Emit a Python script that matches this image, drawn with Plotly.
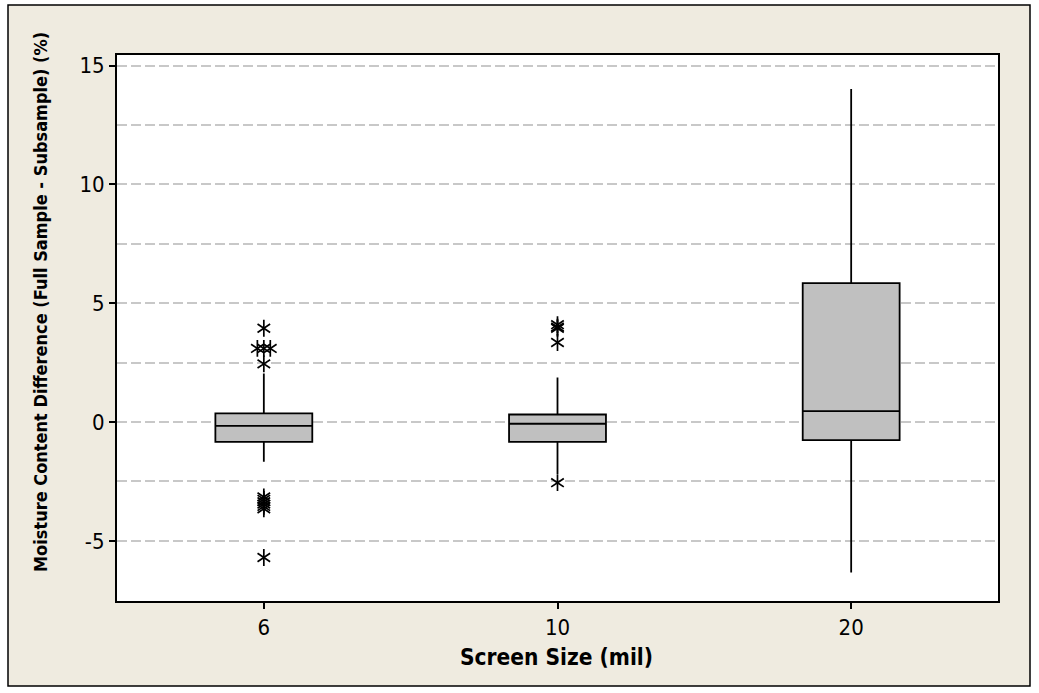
import plotly.graph_objects as go
from collections import Counter

# ---- data ----
categories = ["6", "10", "20"]
q1 = [-0.83, -0.83, -0.76]
median = [-0.16, -0.07, 0.46]
q3 = [0.37, 0.32, 5.85]
lower_whisker = [-1.67, -2.19, -6.33]
upper_whisker = [2.05, 1.88, 14.02]
outliers_6 = [3.95, 3.1, 3.1, 3.1, 2.45, -3.15, -3.25, -3.35, -3.45, -3.55, -3.65, -5.7]
outliers_10 = [4.1, 4.0, 3.95, 3.35, -2.55]
outliers_20 = []
y_tick_values = [-5, 0, 5, 10, 15]
y_tick_labels = ["-5", "0", "5", "10", "15"]

FONT = "'DejaVu Sans Condensed', 'DejaVu Sans', sans-serif"
pos = list(range(len(categories)))

fig = go.Figure()
fig.add_trace(go.Box(
    x=pos, q1=q1, median=median, q3=q3,
    lowerfence=lower_whisker, upperfence=upper_whisker,
    width=0.33, fillcolor="#C0C0C0",
    line=dict(color="black", width=1.8),
    boxpoints=False, whiskerwidth=0, showlegend=False, hoverinfo="skip",
))

# outliers: identical values are placed side by side (Minitab style)
ox, oy = [], []
for p, vals in zip(pos, [outliers_6, outliers_10, outliers_20]):
    counts = Counter(vals)
    seen = Counter()
    for v in vals:
        n = counts[v]
        k = seen[v]
        seen[v] += 1
        ox.append(p + (k - (n - 1) / 2) * 0.022)
        oy.append(v)

for sym in ["y-up-open", "y-down-open"]:
    fig.add_trace(go.Scatter(
        x=ox, y=oy, mode="markers", showlegend=False, hoverinfo="skip",
        marker=dict(symbol=sym, size=10.5, color="black",
                    line=dict(color="black", width=1.7)),
    ))

W, H = 1039, 693
L, R, T, B = 117, 41, 55, 92
pw, ph = W - L - R, H - T - B

def px_x(x):
    return (x - L) / pw

def px_y(y):
    return (H - B - y) / ph

shapes = [
    dict(type="rect", xref="paper", yref="paper", layer="below",
         x0=px_x(8), x1=px_x(1030), y0=px_y(686), y1=px_y(5),
         fillcolor="#EFEBE0", line=dict(color="black", width=1.5)),
    dict(type="rect", xref="paper", yref="paper", layer="below",
         x0=0, x1=1, y0=0, y1=1, fillcolor="white", line=dict(width=0)),
]

annotations = [
    dict(text="<b>Moisture Content Difference (Full Sample - Subsample) (%)</b>",
         xref="paper", yref="paper", x=px_x(40), y=px_y(302), textangle=-90,
         showarrow=False, xanchor="center", yanchor="middle",
         font=dict(family=FONT, size=18, color="black")),
    dict(text="<b>Screen Size (mil)</b>",
         xref="paper", yref="paper", x=px_x(556), y=px_y(657),
         showarrow=False, xanchor="center", yanchor="middle",
         font=dict(family=FONT, size=22.5, color="black")),
]

fig.update_layout(
    width=W, height=H,
    margin=dict(l=L, r=R, t=T, b=B, pad=0),
    paper_bgcolor="white", plot_bgcolor="white",
    font=dict(family=FONT, size=22, color="black"),
    shapes=shapes, annotations=annotations, showlegend=False,
)
fig.update_xaxes(
    range=[-0.5, 2.5], tickmode="array", tickvals=pos, ticktext=categories,
    ticks="outside", ticklen=6, tickwidth=1.5, tickcolor="black",
    showline=True, linecolor="black", linewidth=2, mirror=True,
    showgrid=False, zeroline=False, tickfont=dict(size=22),
)
fig.update_yaxes(
    range=[-7.53, 15.45], tickmode="array",
    tickvals=y_tick_values, ticktext=y_tick_labels,
    ticks="outside", ticklen=6, tickwidth=1.5, tickcolor="black",
    showline=True, linecolor="black", linewidth=2, mirror=True,
    showgrid=True, gridcolor="#C8C8C8", gridwidth=1.5, griddash="10px,4px",
    zeroline=False, tickfont=dict(size=22),
    minor=dict(tickmode="linear", tick0=0, dtick=2.5, showgrid=True,
               gridcolor="#C8C8C8", gridwidth=1.5, griddash="10px,4px", ticks=""),
)

fig.write_html("out.html")
